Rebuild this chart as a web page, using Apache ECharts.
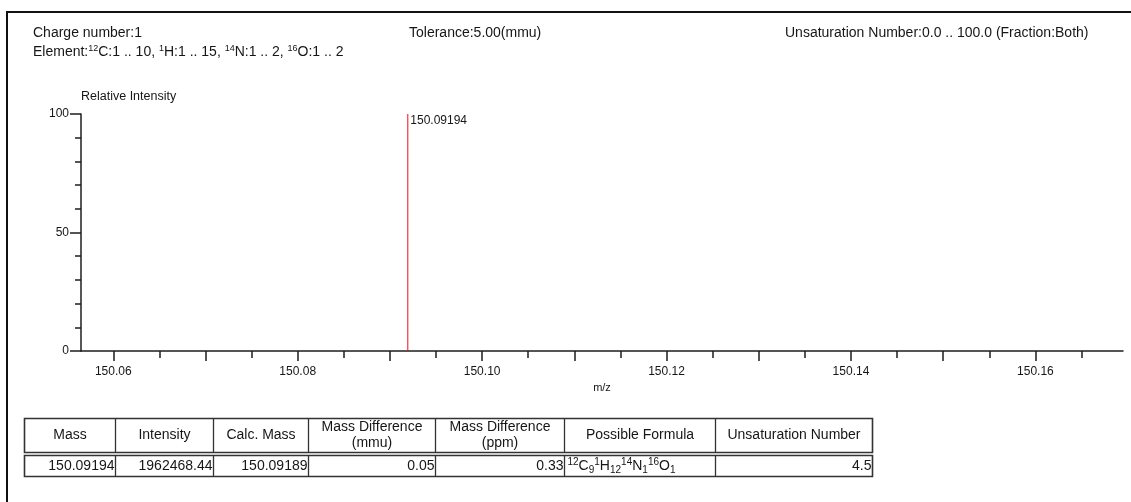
<!DOCTYPE html>
<html>
<head>
<meta charset="utf-8">
<script src="https://cdn.jsdelivr.net/npm/echarts@6/dist/echarts.min.js"></script>
<style>
  html, body { margin: 0; padding: 0; background: #fff; }
  #chart { width: 1131px; height: 502px; }
</style>
</head>
<body>
<div id="chart"></div>
<script>
// Peak list: m/z and relative intensity (%)
const peakMz = [150.09194];
const peakIntensity = [100];

// m/z axis range and tick values
const mzMin = 150.0565;
const mzMax = 150.1695;
const mzLabelTicks = [150.06, 150.08, 150.10, 150.12, 150.14, 150.16];
const mzMajorTicks = [150.06, 150.07, 150.08, 150.09, 150.10, 150.11, 150.12, 150.13, 150.14, 150.15, 150.16];
const mzMinorTicks = [150.065, 150.075, 150.085, 150.095, 150.105, 150.115, 150.125, 150.135, 150.145, 150.155, 150.165];

// Intensity axis tick values
const intensityLabelTicks = [0, 50, 100];
const intensityMinorTicks = [10, 20, 30, 40, 60, 70, 80, 90];

// Search conditions
const chargeNumber = '1';
const toleranceText = '5.00(mmu)';
const unsaturationRange = '0.0 .. 100.0 (Fraction:Both)';
const elementLimits = [['12', 'C', '1 .. 10'], ['1', 'H', '1 .. 15'], ['14', 'N', '1 .. 2'], ['16', 'O', '1 .. 2']];

// Result table
const tableHeaders = ['Mass', 'Intensity', 'Calc. Mass', 'Mass Difference\n(mmu)', 'Mass Difference\n(ppm)', 'Possible Formula', 'Unsaturation Number'];
const resultMass = ['150.09194'];
const resultIntensity = ['1962468.44'];
const resultCalcMass = ['150.09189'];
const resultDiffMmu = ['0.05'];
const resultDiffPpm = ['0.33'];
const resultFormula = [[['12', 'C', '9'], ['1', 'H', '12'], ['14', 'N', '1'], ['16', 'O', '1']]];
const resultUnsat = ['4.5'];

const FONT = '"Liberation Sans", Arial, sans-serif';
const INK = '#161616';
const AXIS = '#1e1e1e';

const chart = echarts.init(document.getElementById('chart'), null, { renderer: 'canvas' });

// ---- header lines ----
function textEl(x, y, text, extra) {
  return {
    type: 'text', x: x, y: y, silent: true,
    style: Object.assign({
      text: text, fontSize: 14, fontFamily: FONT, fill: INK,
      align: 'left', textAlign: 'left', verticalAlign: 'middle', textVerticalAlign: 'middle'
    }, extra || {})
  };
}

const elementRich = 'Element:' + elementLimits.map(e => '{sup|' + e[0] + '}' + e[1] + ':' + e[2]).join(', ');

const graphics = [
  // outer frame
  { type: 'rect', silent: true, z: -10, shape: { x: 7, y: 12, width: 1140, height: 500 },
    style: { fill: 'none', stroke: '#111', lineWidth: 2 } },
  textEl(33, 33, 'Charge number:' + chargeNumber),
  textEl(33, 52, elementRich, {
    lineHeight: 16,
    rich: { sup: { fontSize: 9, fontFamily: FONT, fill: INK, verticalAlign: 'top', lineHeight: 16 } }
  }),
  textEl(409, 33, 'Tolerance:' + toleranceText),
  textEl(785, 33, 'Unsaturation Number:' + unsaturationRange)
];

// ---- result table ----
const colEdges = [24.5, 115.5, 213.5, 308.5, 435.5, 564.5, 715.5, 872.5];
const headTop = 418.5, headBottom = 452.5, rowTop = 455.5, rowBottom = 476.5;
const lineStyle = { stroke: '#333', lineWidth: 1.3, fill: 'none' };

graphics.push({ type: 'rect', silent: true, shape: { x: colEdges[0], y: headTop, width: colEdges[7] - colEdges[0], height: headBottom - headTop }, style: Object.assign({}, lineStyle, { lineWidth: 1.6 }) });
graphics.push({ type: 'rect', silent: true, shape: { x: colEdges[0], y: rowTop, width: colEdges[7] - colEdges[0], height: rowBottom - rowTop }, style: Object.assign({}, lineStyle, { lineWidth: 1.6 }) });
for (let i = 1; i < colEdges.length - 1; i++) {
  graphics.push({ type: 'line', silent: true, shape: { x1: colEdges[i], y1: headTop, x2: colEdges[i], y2: headBottom }, style: lineStyle });
  graphics.push({ type: 'line', silent: true, shape: { x1: colEdges[i], y1: rowTop, x2: colEdges[i], y2: rowBottom }, style: lineStyle });
}

const headMid = (headTop + headBottom) / 2;
tableHeaders.forEach((h, i) => {
  const cx = (colEdges[i] + colEdges[i + 1]) / 2;
  graphics.push(textEl(cx, headMid, h, { align: 'center', textAlign: 'center', lineHeight: 16 }));
});

const rowMid = (rowTop + rowBottom) / 2 + 0.5;
const rightCells = [resultMass, resultIntensity, resultCalcMass, resultDiffMmu, resultDiffPpm];
rightCells.forEach((col, i) => {
  graphics.push(textEl(colEdges[i + 1] - 1, rowMid, col[0], { align: 'right', textAlign: 'right' }));
});
const formulaRich = resultFormula[0].map(f => '{sup|' + f[0] + '}' + f[1] + '{sub|' + f[2] + '}').join('');
graphics.push(textEl(colEdges[5] + 3, rowMid, formulaRich, {
  lineHeight: 18,
  rich: {
    sup: { fontSize: 10, fontFamily: FONT, fill: INK, verticalAlign: 'top', lineHeight: 18 },
    sub: { fontSize: 10, fontFamily: FONT, fill: INK, verticalAlign: 'bottom', lineHeight: 18 }
  }
}));
graphics.push(textEl(colEdges[7] - 1, rowMid, resultUnsat[0], { align: 'right', textAlign: 'right' }));

// ---- spectrum ----
const tickLine = { color: AXIS, width: 1.5 };
const option = {
  animation: false,
  textStyle: { fontFamily: FONT },
  grid: { left: 81, right: 8, top: 114, bottom: 151, containLabel: false, outerBoundsMode: 'none' },
  xAxis: [{
    type: 'value', min: mzMin, max: mzMax,
    name: 'm/z', nameLocation: 'middle', nameGap: 31,
    nameTextStyle: { fontSize: 11, color: INK, fontFamily: FONT },
    axisLine: { show: true, onZero: false, lineStyle: { color: AXIS, width: 1.5 } },
    axisTick: { show: true, length: 10, customValues: mzMajorTicks, lineStyle: tickLine },
    axisLabel: { show: true, customValues: mzLabelTicks, formatter: v => v.toFixed(2), fontSize: 12, color: INK, margin: 15, fontFamily: FONT },
    splitLine: { show: false }
  }, {
    type: 'value', min: mzMin, max: mzMax, position: 'bottom',
    axisLine: { show: false, onZero: false },
    axisTick: { show: true, length: 7, customValues: mzMinorTicks, lineStyle: tickLine },
    axisLabel: { show: false },
    splitLine: { show: false }
  }],
  yAxis: [{
    type: 'value', min: 0, max: 100,
    name: 'Relative Intensity', nameLocation: 'end', nameGap: 17,
    nameTextStyle: { align: 'left', verticalAlign: 'middle', fontSize: 12.5, color: INK, fontFamily: FONT },
    axisLine: { show: true, lineStyle: { color: AXIS, width: 1.5 } },
    axisTick: { show: true, length: 11, customValues: intensityLabelTicks, lineStyle: tickLine },
    axisLabel: { show: true, customValues: intensityLabelTicks, fontSize: 12, color: INK, margin: 12, fontFamily: FONT },
    splitLine: { show: false }
  }, {
    type: 'value', min: 0, max: 100, position: 'left',
    axisLine: { show: false },
    axisTick: { show: true, length: 6, customValues: intensityMinorTicks, lineStyle: tickLine },
    axisLabel: { show: false },
    splitLine: { show: false }
  }],
  series: [{
    type: 'bar', xAxisIndex: 0, yAxisIndex: 0, silent: true,
    data: peakMz.map((m, i) => [m, peakIntensity[i]]),
    barWidth: 1,
    itemStyle: { color: '#e8101c' },
    label: {
      show: true, position: [3, 1], align: 'left', verticalAlign: 'top',
      formatter: p => p.value[0].toFixed(5), fontSize: 12, color: INK, fontFamily: FONT
    }
  }],
  graphic: { elements: graphics }
};
chart.setOption(option);
</script>
</body>
</html>
